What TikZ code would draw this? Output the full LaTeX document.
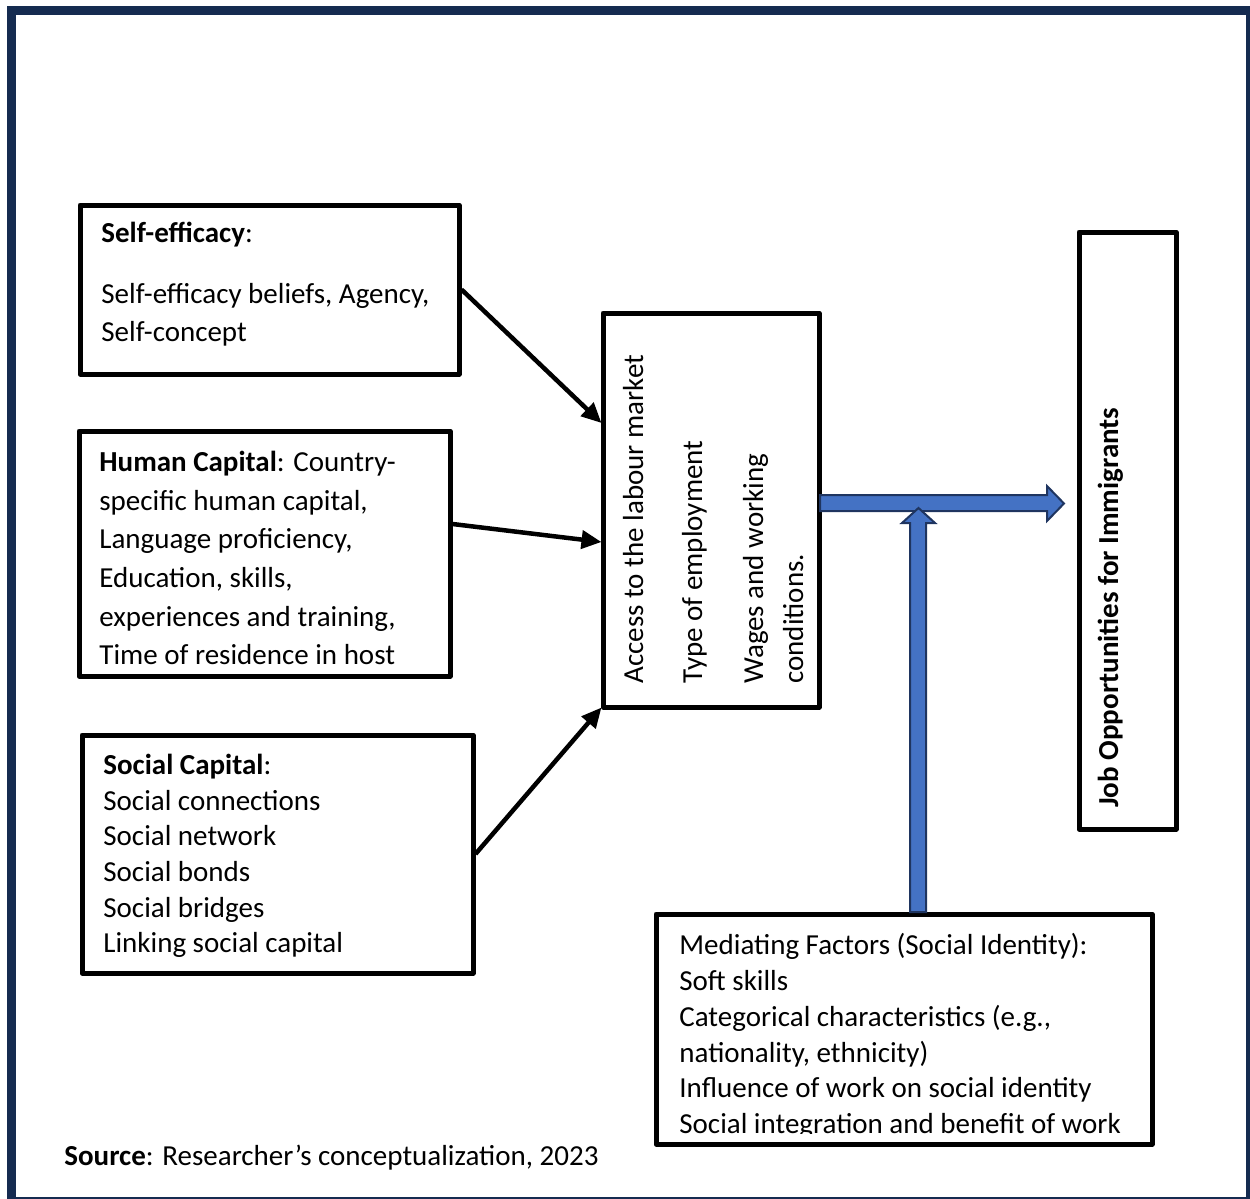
\documentclass[tikz,border=0pt]{standalone}
\usepackage{fontspec}
\setmainfont{Carlito}
\usetikzlibrary{arrows.meta}
\usetikzlibrary{calc}
\usetikzlibrary{fit}
\definecolor{framenavy}{HTML}{152B50}
\definecolor{arrowblue}{HTML}{4472C4}
\definecolor{arrowedge}{HTML}{1F3560}
\tikzset{
  box/.style={draw=black, line width=2.5pt, inner sep=0pt, line join=round},
  boxtext/.style={anchor=north west, inner sep=0pt, align=left, font=\fontsize{14.5}{19}\selectfont},
  rottext/.style={rotate=90, anchor=base west, inner sep=0pt, font=\fontsize{14.5}{19}\selectfont},
  link/.style={-{Triangle[length=10pt,width=9pt]}, line width=2.25pt},
  blockarrow/.style={fill=arrowblue, draw=arrowedge, line width=1pt, line join=miter},
}

\begin{document}
\begin{tikzpicture}[x=0.5pt,y=-0.5pt]
    \useasboundingbox (0,0) rectangle (1250,1199);
    % outer frame
    \draw[framenavy, line width=4.5pt] (11,10.5) rectangle (1250,1201);

    % boxes
    \node[box, fit={(80,205) (459,374)}] (selfeff) {};
    \node[box, fit={(79,431) (450,676)}] (human) {};
    \node[box, fit={(82,735) (473,973)}] (social) {};
    \node[box, fit={(603,313) (819,707)}] (access) {};
    \node[box, fit={(1079,232) (1176,829)}] (jobs) {};
    \node[box, fit={(656,914) (1152,1144)}] (mediate) {};

    % box texts
    \node[boxtext] (selftxt) at (101,222) {\textbf{Self-efficacy}:\\[11.5pt] Self-efficacy beliefs, Agency,\\ Self-concept};
    \node[boxtext, font=\fontsize{14.5}{19.3}\selectfont] (humantxt) at (99,451) {\textbf{Human Capital}: Country-\\ specific human capital,\\ Language proficiency,\\ Education, skills,\\ experiences and training,\\ Time of residence in host};
    \node[boxtext, font=\fontsize{14.5}{17.8}\selectfont] (socialtxt) at (103,754) {\textbf{Social Capital}:\\ Social connections\\ Social network\\ Social bonds\\ Social bridges\\ Linking social capital};
    \begin{scope}
        \clip (656,914) rectangle (1152,1133);
        \node[boxtext, font=\fontsize{14.5}{17.9}\selectfont] (mediatetxt) at (679,933) {Mediating Factors (Social Identity):\\ Soft skills\\ Categorical characteristics (e.g.,\\ nationality, ethnicity)\\ Influence of work on social identity\\ Social integration and benefit of work};
    \end{scope}

    % rotated texts
    \node[rottext] (acc) at (643,684) {Access to the labour market};
    \node[rottext] (emptype) at (702,684) {Type of employment};
    \node[rottext] (wages) at (763,684) {Wages and working};
    \node[rottext] (cond) at (803,684) {conditions.};
    \node[rottext, font=\bfseries\fontsize{14.5}{19}\selectfont] (jobtxt) at (1118,808) {Job Opportunities for Immigrants};

    % source line
    \node[anchor=base west, inner sep=0pt, font=\fontsize{14.5}{19}\selectfont] (source) at (64,1165) {\textbf{Source}: Researcher’s conceptualization, 2023};

    % black arrows
    \draw[link] (selfeff.east) -- ($(access.west)+(1,-87)$);
    \draw[link] ($(human.east)+(0,-29.5)$) -- ($(access.west)+(1,32)$);
    \draw[link] (social.east) -- ($(access.south west)+(1,-2)$);

    % blue block arrows
    \draw[blockarrow] (820,495) -- (1047,495) -- (1047,486) -- (1064,503.5) -- (1047,521) -- (1047,511) -- (820,511) -- cycle;
    \draw[blockarrow] (910,912) -- (910,523) -- (902,523) -- (918.5,508) -- (935,523) -- (926,523) -- (926,912) -- cycle;
\end{tikzpicture}
\end{document}
